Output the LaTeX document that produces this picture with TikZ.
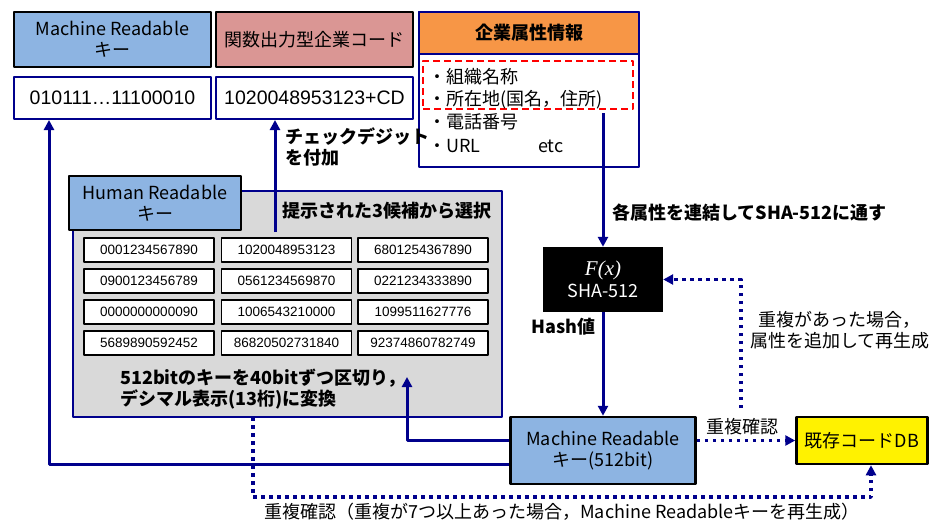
\documentclass[tikz,border=0pt]{standalone}
\usepackage{fontspec}
\setmainfont{Noto Sans CJK JP}
\newfontfamily\numfont{Liberation Sans}
\newfontfamily\fnfont{Liberation Serif}
\usetikzlibrary{arrows.meta}
\definecolor{navy}{RGB}{0,0,140}
\definecolor{keyblue}{RGB}{141,180,226}
\definecolor{codepink}{RGB}{218,150,148}
\definecolor{attrorange}{RGB}{247,150,70}
\definecolor{boxgray}{RGB}{217,217,217}
\begin{document}
\begin{tikzpicture}[x=1pt, y=-1pt, line join=round, >={Triangle[length=10pt,width=10pt]}]
\tikzset{every node/.style={font=\fontsize{18}{21}\selectfont, inner sep=0pt},
  head/.style={draw=black, line width=2.5pt, align=center},
  valbox/.style={draw=navy, line width=2pt, fill=white, minimum width=197pt, minimum height=42pt, font=\numfont\fontsize{19.5}{22}\selectfont},
  numbox/.style={draw=black, line width=1.8pt, fill=white, minimum width=130pt, minimum height=24pt, font=\numfont\fontsize{13.5}{15}\selectfont},
  flow/.style={navy, line width=3pt, ->},
  dup/.style={navy, line width=3.5pt, dash pattern=on 3.5pt off 4.5pt, ->},
  lbl/.style={font=\fontsize{18}{21}\selectfont\bfseries, align=left, anchor=west}}
\useasboundingbox (0,0) rectangle (930,523);
\node[head, fill=keyblue, minimum width=197pt, minimum height=55pt] (mrhead) at (112.5,39.5) {Machine Readable\\キー};
\node[head, fill=codepink, minimum width=197pt, minimum height=55pt] (codehead) at (314.5,39.5) {関数出力型企業コード};
\node[valbox] (mrval) at (112.5,98) {010111…11100010};
\node[valbox] (codeval) at (314.5,98) {1020048953123+CD};
\node[draw=navy, line width=2pt, minimum width=220pt, minimum height=155pt] (attr) at (529,89.5) {};
\node[draw=navy, line width=2pt, fill=attrorange, minimum width=220pt, minimum height=42pt, font=\fontsize{18}{21}\selectfont\bfseries] (attrhead) at (529,33) {企業属性情報};
\node[draw=red, line width=1.8pt, dash pattern=on 7pt off 4pt, minimum width=210pt, minimum height=48pt] (attrsel) at (528,85) {};
\foreach \t/\y [count=\i] in {・組織名称/77, ・所在地(国名，住所)/100, ・電話番号/122, ・URL/146}
  \node[anchor=west] (item\i) at (428,\y) {\t};
\node[anchor=west] (etc) at (538,146) {etc};
\node[fill=black, text=white, align=center, minimum width=120pt, minimum height=65pt] (hash) at (603,279.5) {{\fnfont\itshape\fontsize{21}{22}\selectfont F(x)}\\[1pt]SHA-512};
\node[lbl] (hashval) at (531,327) {Hash値};
\node[head, fill=keyblue, minimum width=185pt, minimum height=67pt] (mrkey) at (603,450.5) {Machine Readable\\キー(512bit)};
\node[head, fill=yellow, minimum width=131pt, minimum height=47pt] (db) at (862,440.5) {既存コードDB};
\node[draw=navy, line width=2.5pt, fill=boxgray, minimum width=429pt, minimum height=226pt] (hrbox) at (287.5,304) {};
\node[head, fill=keyblue, minimum width=172pt, minimum height=54pt] (hrhead) at (155,203) {Human Readable\\キー};
\foreach \a/\b/\c [count=\r] in {0001234567890/1020048953123/6801254367890, 0900123456789/0561234569870/0221234333890, 0000000000090/1006543210000/1099511627776, 5689890592452/86820502731840/92374860782749}{
  \node[numbox] (n\r a) at (149,219+31*\r) {\a};
  \node[numbox] (n\r b) at (286.5,219+31*\r) {\b};
  \node[numbox] (n\r c) at (423,219+31*\r) {\c};
}
\node[lbl] (pick) at (282,211) {提示された3候補から選択};
\node[lbl] (split) at (120,389.5) {512bitのキーを40bitずつ区切り，\\デシマル表示(13桁)に変換};
\node[lbl] (cdigit) at (285,147) {チェックデジット\\を付加};
\node[lbl] (concat) at (612,213) {各属性を連結してSHA-512に通す};
\node[anchor=west, align=center] (regen) at (750,330) {重複があった場合，\\属性を追加して再生成};
\node (chk) at (742,427) {重複確認};
\node (chkall) at (562,512) {重複確認（重複が7つ以上あった場合，Machine Readableキーを再生成）};
\path (603,113) coordinate (attrout)
  (407,377) coordinate (hrin)
  (275,232) coordinate (hrout)
  (741,408) coordinate (dupend)
  (253,417) coordinate (hrdot)
  (871,497) coordinate (dbbot)
  ([xshift=-63.5pt]mrval.south) coordinate (mrin);
\draw[flow] (attrout) -- (hash);
\draw[flow] (hash) -- (mrkey);
\draw[flow] ([yshift=10pt]mrkey.west) -| (hrin);
\draw[flow] ([yshift=-14pt]mrkey.west) -| (mrin);
\draw[flow] (hrout) -- (hrout |- codeval.south);
\draw[dup] (mrkey.east |- db.west) -- (db.west);
\draw[dup] (dupend) |- (hash.east);
\draw[dup] (hrdot) |- (dbbot) -- (dbbot |- db.south);
\end{tikzpicture}
\end{document}
